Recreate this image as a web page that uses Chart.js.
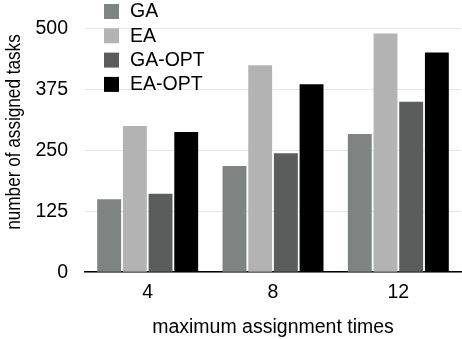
<!DOCTYPE html>
<html>
<head>
<meta charset="utf-8">
<script src="https://cdn.jsdelivr.net/npm/chart.js@4.4.1/dist/chart.umd.min.js"></script>
<style>
  html, body { margin: 0; padding: 0; background: #fff; }
  #wrap { width: 462px; height: 339px; }
</style>
</head>
<body>
<div id="wrap"><canvas id="barChart"></canvas></div>
<script>
const categories = ['4', '8', '12'];
const seriesNames = ['GA', 'EA', 'GA-OPT', 'EA-OPT'];
const gaValues = [150, 218, 284];
const eaValues = [300, 425, 490];
const gaOptValues = [161, 244, 350];
const eaOptValues = [288, 386, 451];
const yTicks = [0, 125, 250, 375, 500];
const yTitle = 'number of assigned tasks';

const colors = ['#7f8381', '#b3b3b3', '#5b5d5c', '#000000'];
const fontFamily = '"Liberation Sans", Arial, Helvetica, sans-serif';
const fontSize = 19.5;

// legend drawn inside the plot, top-left, plus the y title (sits higher than centre)
const boxLegend = {
  id: 'boxLegend',
  afterDraw(chart) {
    const ctx = chart.ctx;
    ctx.save();
    ctx.font = fontSize + 'px ' + fontFamily;
    ctx.textBaseline = 'middle';
    chart.data.datasets.forEach((ds, i) => {
      const top = 4 + i * 24.3;
      ctx.fillStyle = ds.backgroundColor;
      ctx.fillRect(104, top, 15, 15);
      ctx.fillStyle = '#000';
      ctx.fillText(ds.label, 130, top + 8);
    });
    ctx.translate(15, 132);
    ctx.rotate(-Math.PI / 2);
    ctx.scale(0.88, 1);
    ctx.textAlign = 'center';
    ctx.fillText(yTitle, 0, 0);
    ctx.restore();
  }
};

new Chart(document.getElementById('barChart'), {
  type: 'bar',
  data: {
    labels: categories,
    datasets: [
      { label: seriesNames[0], data: gaValues, backgroundColor: colors[0] },
      { label: seriesNames[1], data: eaValues, backgroundColor: colors[1] },
      { label: seriesNames[2], data: gaOptValues, backgroundColor: colors[2] },
      { label: seriesNames[3], data: eaOptValues, backgroundColor: colors[3] }
    ]
  },
  options: {
    responsive: true,
    maintainAspectRatio: false,
    animation: false,
    categoryPercentage: 0.82,
    barPercentage: 0.93,
    layout: { padding: { top: 23, right: 1, left: 18.5, bottom: 0 } },
    plugins: {
      legend: { display: false },
      tooltip: { enabled: false }
    },
    scales: {
      x: {
        grid: { display: false, drawTicks: false },
        border: { display: true, color: '#000', width: 1.5 },
        ticks: { color: '#000', padding: 9, font: { family: fontFamily, size: fontSize } },
        title: {
          display: true,
          text: 'maximum assignment times',
          color: '#000',
          padding: { top: 2, bottom: 0 },
          font: { family: fontFamily, size: fontSize }
        }
      },
      y: {
        min: 0,
        max: 500,
        afterBuildTicks(axis) {
          axis.ticks = yTicks.map(v => ({ value: v }));
        },
        grid: { color: '#e6e6e6', drawTicks: false },
        border: { display: false },
        ticks: { color: '#000', padding: 17, font: { family: fontFamily, size: fontSize } }
      }
    }
  },
  plugins: [boxLegend]
});
</script>
</body>
</html>
